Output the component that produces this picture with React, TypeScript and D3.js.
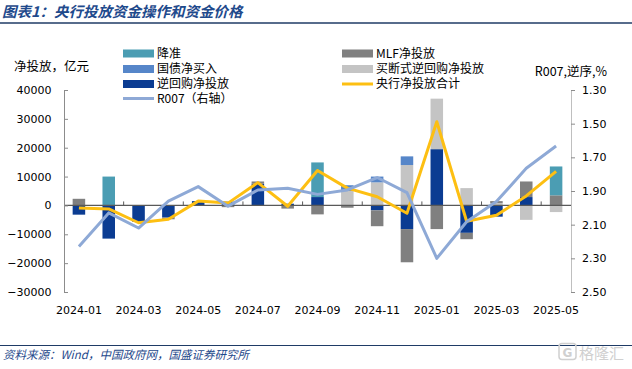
import React, { useRef, useEffect } from "react";
import * as d3 from "d3";

const months = [
  "2024-01", "2024-02", "2024-03", "2024-04", "2024-05", "2024-06",
  "2024-07", "2024-08", "2024-09", "2024-10", "2024-11", "2024-12",
  "2025-01", "2025-02", "2025-03", "2025-04", "2025-05",
];

// 亿元
const rrr = [0, 10000, 0, 0, 0, 0, 0, 0, 12000, 0, 0, 0, 0, 0, 0, 0, 10000];
const mlf = [2300, 0, 0, -600, 0, -600, 800, -1100, -3100, -800, -5500, -11500, -8200, -2200, 700, 5400, 3500];
const govBond = [0, 0, 0, 0, 0, 0, 0, 0, 0, 2000, 2000, 3000, 0, 0, 0, 0, 0];
const outright = [0, 0, 0, 0, 0, 0, 0, 0, 0, 5000, 8000, 14000, 17500, 6000, 800, -5000, -2300];
const repo = [-3200, -11500, -5700, -4200, 1500, 1300, 7500, 600, 2900, 0, -1700, -8200, 19500, -9500, -3900, 2900, 0];
const total = [-900, -1200, -6000, -4800, 1500, 800, 7900, -300, 12100, 6000, 3000, -2700, 29000, -5500, -3400, 3300, 11800];
// %
const r007 = [2.23, 2.03, 2.12, 1.96, 1.874, 1.99, 1.894, 1.884, 1.92, 1.894, 1.82, 1.91, 2.30, 2.083, 1.963, 1.765, 1.633];

const leftTicks = [-30000, -20000, -10000, 0, 10000, 20000, 30000, 40000];
const rightTicks = [1.3, 1.5, 1.7, 1.9, 2.1, 2.3, 2.5];

const stackKeys = ["repo", "outright", "mlf", "govBond", "rrr"];
const colors: Record<string, string> = {
  rrr: "#4b9db3",
  mlf: "#808080",
  govBond: "#5686c9",
  outright: "#c4c4c4",
  repo: "#0b3c92",
  total: "#fdbf12",
  r007: "#8ea9d6",
};

const cjk = "'Noto Sans CJK SC', sans-serif";
const num = "'DejaVu Sans', Verdana, sans-serif";

function Chart() {
  const svgRef = useRef<SVGSVGElement>(null);

  useEffect(() => {
    const width = 632;
    const height = 369;
    const left = 64;
    const right = 571;
    const top = 90;
    const bottom = 292;

    const svg = d3.select(svgRef.current);
    svg.selectAll("*").remove();
    svg.attr("width", width).attr("height", height);

    const rows = months.map((m, i) => ({
      month: m,
      repo: repo[i],
      outright: outright[i],
      mlf: mlf[i],
      govBond: govBond[i],
      rrr: rrr[i],
    }));

    const x = d3.scaleBand().domain(months).range([left, right]).paddingInner(0.58).paddingOuter(0.29);
    const cx = (m: string) => (x(m) as number) + x.bandwidth() / 2;
    const yL = d3.scaleLinear().domain([-30000, 40000]).range([bottom, top]);
    const yR = d3.scaleLinear().domain([1.3, 2.5]).range([top, bottom]);

    // title
    svg.append("text")
      .attr("x", 2).attr("y", 16.5)
      .attr("font-family", cjk).attr("font-size", 14.5).attr("font-weight", "bold")
      .attr("font-style", "italic").attr("fill", "#1f4a8c")
      .text("图表1：央行投放资金操作和资金价格");
    svg.append("line")
      .attr("x1", 0).attr("x2", width).attr("y1", 23).attr("y2", 23)
      .attr("stroke", "#1f3b66").attr("stroke-width", 1.5);

    // bars
    const series = d3.stack<any>().keys(stackKeys).offset(d3.stackOffsetDiverging)(rows);
    svg.append("g").selectAll("g")
      .data(series)
      .join("g")
      .attr("fill", (s) => colors[s.key])
      .selectAll("rect")
      .data((s) => s)
      .join("rect")
      .attr("x", (d) => x(d.data.month) as number)
      .attr("width", x.bandwidth())
      .attr("y", (d) => yL(Math.max(d[0], d[1])))
      .attr("height", (d) => Math.abs(yL(d[0]) - yL(d[1])));

    // zero line with ticks
    const zy = yL(0);
    svg.append("line")
      .attr("x1", left).attr("x2", right).attr("y1", zy).attr("y2", zy)
      .attr("stroke", "#595959").attr("stroke-width", 1.2);
    const half = (x.step() * x.paddingInner()) / 2;
    svg.append("g").selectAll("line")
      .data(months.filter((_, i) => i % 2 === 0 && i > 0))
      .join("line")
      .attr("x1", (m) => (x(m) as number) - half)
      .attr("x2", (m) => (x(m) as number) - half)
      .attr("y1", zy).attr("y2", zy - 4)
      .attr("stroke", "#595959");

    // left axis
    const gL = svg.append("g").attr("transform", `translate(${left},0)`)
      .call(d3.axisLeft(yL).tickValues(leftTicks).tickFormat(d3.format("d")).tickSizeInner(-4).tickSizeOuter(0).tickPadding(12.5));
    gL.select(".domain").attr("stroke", "#8c8c8c");
    gL.selectAll(".tick line").attr("stroke", "#8c8c8c");
    gL.selectAll(".tick text").attr("font-family", num).attr("font-size", 11).attr("fill", "#000");

    // right axis
    const gR = svg.append("g").attr("transform", `translate(${right},0)`)
      .call(d3.axisRight(yR).tickValues(rightTicks).tickFormat(d3.format(".2f")).tickSizeInner(4).tickSizeOuter(0).tickPadding(7));
    gR.select(".domain").attr("stroke", "#bfbfbf");
    gR.selectAll(".tick line").attr("stroke", "#8c8c8c");
    gR.selectAll(".tick text").attr("font-family", num).attr("font-size", 11).attr("fill", "#000");

    // x labels
    const gX = svg.append("g").attr("transform", `translate(0,${bottom})`)
      .call(d3.axisBottom(x).tickValues(months.filter((_, i) => i % 2 === 0)).tickSize(0).tickPadding(13.7));
    gX.select(".domain").remove();
    gX.selectAll(".tick text").attr("font-family", num).attr("font-size", 11).attr("fill", "#000");

    // lines
    const lineL = d3.line<number>().x((_, i) => cx(months[i])).y((d) => yL(d));
    const lineR = d3.line<number>().x((_, i) => cx(months[i])).y((d) => yR(d));
    svg.append("path").datum(total).attr("d", lineL)
      .attr("fill", "none").attr("stroke", colors.total).attr("stroke-width", 3).attr("stroke-linejoin", "round");
    svg.append("path").datum(r007).attr("d", lineR)
      .attr("fill", "none").attr("stroke", colors.r007).attr("stroke-width", 3).attr("stroke-linejoin", "round");

    // axis titles
    svg.append("text").attr("x", 14).attr("y", 71)
      .attr("font-family", cjk).attr("font-size", 12.5).attr("fill", "#000").text("净投放，亿元");
    svg.append("text").attr("x", 607).attr("y", 76).attr("text-anchor", "end")
      .attr("font-family", cjk).attr("font-size", 12.5).attr("fill", "#000").text("R007,逆序,%");

    // legend
    const legend = [
      { label: "降准", key: "rrr", x: 123, y: 53.5, type: "rect" },
      { label: "MLF净投放", key: "mlf", x: 342, y: 53.5, type: "rect" },
      { label: "国债净买入", key: "govBond", x: 123, y: 69, type: "rect" },
      { label: "买断式逆回购净投放", key: "outright", x: 342, y: 69, type: "rect" },
      { label: "逆回购净投放", key: "repo", x: 123, y: 84, type: "rect" },
      { label: "央行净投放合计", key: "total", x: 342, y: 84, type: "line" },
      { label: "R007（右轴）", key: "r007", x: 123, y: 98.5, type: "line" },
    ];
    const lg = svg.append("g").selectAll("g").data(legend).join("g")
      .attr("transform", (d) => `translate(${d.x},${d.y})`);
    lg.filter((d) => d.type === "rect").append("rect")
      .attr("x", 0).attr("y", -4).attr("width", 31).attr("height", 8)
      .attr("fill", (d) => colors[d.key]);
    lg.filter((d) => d.type === "line").append("line")
      .attr("x1", 0).attr("x2", 31).attr("y1", 0).attr("y2", 0)
      .attr("stroke", (d) => colors[d.key]).attr("stroke-width", 3);
    lg.append("text").attr("x", 34).attr("y", 4.3)
      .attr("font-family", cjk).attr("font-size", 12).attr("fill", "#000")
      .text((d) => d.label);

    // footer
    svg.append("line")
      .attr("x1", 0).attr("x2", width).attr("y1", 345.5).attr("y2", 345.5)
      .attr("stroke", "#1f3b66").attr("stroke-width", 1);
    svg.append("text").attr("x", 3).attr("y", 358.5)
      .attr("font-family", cjk).attr("font-size", 11.5).attr("font-style", "italic").attr("fill", "#1f4a8c")
      .text("资料来源：Wind，中国政府网，国盛证券研究所");

    // watermark
    svg.append("rect").attr("x", 559).attr("y", 343.5).attr("width", 17).attr("height", 16).attr("rx", 3)
      .attr("fill", "none").attr("stroke", "#d0d0d0").attr("stroke-width", 1.5);
    svg.append("text").attr("x", 567.5).attr("y", 356.5).attr("text-anchor", "middle")
      .attr("font-family", num).attr("font-size", 12).attr("font-weight", "bold").attr("fill", "#d0d0d0").text("G");
    svg.append("text").attr("x", 579).attr("y", 358.5)
      .attr("font-family", cjk).attr("font-size", 15).attr("fill", "#d0d0d0").text("格隆汇");
  }, []);

  return <svg ref={svgRef} style={{ position: "absolute", left: 0, top: 0, background: "#fff" }}></svg>;
}

export default function App() {
  return <Chart />;
}
